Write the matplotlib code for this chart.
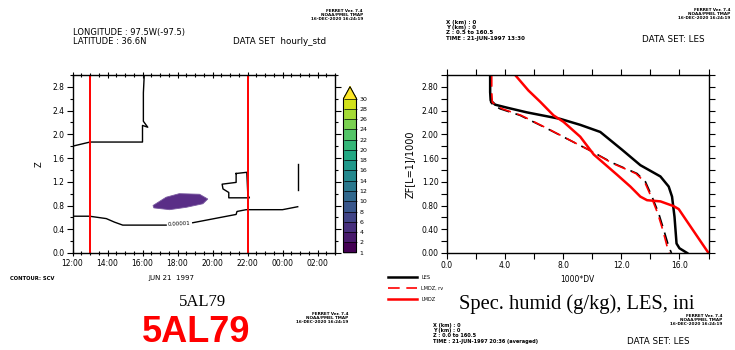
import matplotlib
matplotlib.use('Agg')
import matplotlib.pyplot as plt
from matplotlib.colors import BoundaryNorm
from matplotlib.ticker import MultipleLocator, FixedLocator, FixedFormatter, FuncFormatter
import matplotlib.cm as cm

# ---------------- data ----------------
hour_ticks = [12, 14, 16, 18, 20, 22, 24, 26]
hour_labels = ['12:00', '14:00', '16:00', '18:00', '20:00', '22:00', '00:00', '02:00']
z_ticks_left = [0.0, 0.4, 0.8, 1.2, 1.6, 2.0, 2.4, 2.8]
red_times = [13.0, 22.0]

cont_upper_t = [12.0, 13.0, 16.0, 16.0, 16.3, 16.05, 16.05, 16.1]
cont_upper_z = [1.80, 1.87, 1.87, 2.15, 2.12, 2.22, 2.70, 3.0]

cont_low_a_t = [12.0, 12.97, 13.93, 14.4, 14.87, 17.35]
cont_low_a_z = [0.62, 0.62, 0.58, 0.52, 0.47, 0.47]
cont_low_b_t = [18.87, 21.35, 21.4, 21.92, 24.0, 24.87]
cont_low_b_z = [0.51, 0.65, 0.70, 0.73, 0.73, 0.78]
cont_label = '0.00001'
cont_label_t, cont_label_z = 18.1, 0.49

cont_box_t = [21.35, 21.96, 22.02, 22.11, 20.93, 20.93, 20.6, 20.55, 21.35, 21.35]
cont_box_z = [1.34, 1.36, 0.97, 0.93, 0.93, 1.02, 1.08, 1.16, 1.19, 1.34]

cont_seg_t = [24.88, 24.88]
cont_seg_z = [1.50, 1.06]

blob_t = [16.6, 17.35, 18.1, 19.26, 19.73, 19.45, 18.5, 17.55, 16.65]
blob_z = [0.80, 0.94, 1.00, 0.99, 0.91, 0.83, 0.77, 0.73, 0.76]

cbar_levels = [1, 2, 4, 6, 8, 10, 12, 14, 16, 18, 20, 22, 24, 26, 28, 30]

les_q = [2.97, 2.97, 3.01, 3.31, 4.12, 5.5, 7.8, 9.17, 10.55, 12.05, 13.31, 14.69, 15.26, 15.49, 15.66, 15.8, 16.0, 16.53]
les_z = [3.0, 2.71, 2.57, 2.50, 2.45, 2.37, 2.26, 2.16, 2.04, 1.74, 1.48, 1.29, 1.12, 0.95, 0.61, 0.16, 0.08, 0.0]

rv_q = [3.0, 3.0, 3.01, 3.2, 3.66, 5.03, 6.87, 9.1, 9.75, 11.47, 13.08, 13.66, 14.11, 14.57, 14.92, 15.26, 15.45]
rv_z = [3.0, 2.71, 2.54, 2.49, 2.43, 2.32, 2.10, 1.82, 1.74, 1.51, 1.34, 1.20, 0.95, 0.67, 0.39, 0.11, 0.0]

rv_red_q = [3.08, 3.08, 3.12, 3.4, 3.8, 5.1, 6.9, 9.1, 9.75, 11.4, 13.0, 13.6, 14.05, 14.5, 14.85, 15.15, 15.3]
rv_red_z = [3.0, 2.71, 2.54, 2.49, 2.43, 2.32, 2.10, 1.82, 1.74, 1.51, 1.34, 1.20, 0.95, 0.67, 0.39, 0.11, 0.0]

lmdz_q = [4.69, 5.6, 6.41, 7.33, 8.02, 9.17, 10.1, 11.7, 12.62, 13.31, 13.77, 14.69, 15.6, 15.95, 16.53, 18.0]
lmdz_z = [3.0, 2.74, 2.55, 2.32, 2.21, 1.96, 1.66, 1.32, 1.12, 0.95, 0.89, 0.87, 0.79, 0.74, 0.53, 0.0]

q_ticks = [0, 4, 8, 12, 16]
zf_ticks = [0.0, 0.4, 0.8, 1.2, 1.6, 2.0, 2.4, 2.8]
legend_labels = ['LES', 'LMDZ, rv', 'LMDZ']

# ---------------- figure ----------------
W, H = 735, 350
fig = plt.figure(figsize=(W / 100, H / 100), dpi=100)
plt.rcParams['font.family'] = ['DejaVu Sans']


def box(x0, y0, x1, y1):
    return [x0 / W, 1 - y1 / H, (x1 - x0) / W, (y1 - y0) / H]


def ft(x, y, s, **kw):
    return fig.text(x / W, 1 - y / H, s, **kw)


# ---- left panel ----
ax1 = fig.add_axes(box(72.5, 75, 335, 253))
ax1.set_xlim(12, 27)
ax1.set_ylim(0, 3.0)
ax1.plot(cont_upper_t, cont_upper_z, color='black', lw=1.0)
ax1.plot(cont_low_a_t, cont_low_a_z, color='black', lw=1.0)
ax1.plot(cont_low_b_t, cont_low_b_z, color='black', lw=1.0)
ax1.plot(cont_box_t, cont_box_z, color='black', lw=1.0)
ax1.plot(cont_seg_t, cont_seg_z, color='black', lw=1.0)
ax1.text(cont_label_t, cont_label_z, cont_label, fontsize=4, ha='center', va='center', rotation=3)
ax1.fill(blob_t, blob_z, color='#5a2e87', lw=0.6, ec='#7a5aa0')
for t in red_times:
    ax1.axvline(t, color='red', lw=1.4)

ax1.xaxis.set_major_locator(FixedLocator(hour_ticks))
ax1.xaxis.set_major_formatter(FixedFormatter(hour_labels))
ax1.xaxis.set_minor_locator(MultipleLocator(0.5))
ax1.yaxis.set_major_locator(FixedLocator(z_ticks_left))
ax1.yaxis.set_major_formatter(FuncFormatter(lambda v, p: f'{v:.1f}'))
ax1.yaxis.set_minor_locator(MultipleLocator(0.2))
ax1.tick_params(which='both', direction='out', top=True, right=True, labelsize=5.5, width=0.8, pad=2)
ax1.tick_params(which='major', length=4)
ax1.tick_params(which='minor', length=2.5)
ax1.tick_params(axis='x', which='both', top=True, direction='inout')
for s in ax1.spines.values():
    s.set_linewidth(1.0)
ax1.set_ylabel('Z', fontsize=6, labelpad=6)

# colorbar
cmap = plt.get_cmap('viridis', 16)
norm = BoundaryNorm(cbar_levels, ncolors=16, extend='max')
cax = fig.add_axes(box(343.5, 86.7, 356.5, 252.7))
sm = cm.ScalarMappable(norm=norm, cmap=cmap)
cb = fig.colorbar(sm, cax=cax, extend='max', extendfrac=0.077, drawedges=True, ticks=cbar_levels)
cb.outline.set_linewidth(0.8)
cb.dividers.set_linewidth(0.5)
cb.ax.tick_params(labelsize=4.5, length=0, pad=2)

# ---- right panel ----
ax2 = fig.add_axes(box(447, 75, 708.5, 253))
ax2.set_xlim(0, 18)
ax2.set_ylim(0, 3.0)
l_les, = ax2.plot(les_q, les_z, color='black', lw=1.8)
ax2.plot(rv_q, rv_z, color='black', lw=1.2, dashes=(7, 4))
l_rv, = ax2.plot(rv_red_q, rv_red_z, color='red', lw=1.2, dashes=(7, 4))
l_lmdz, = ax2.plot(lmdz_q, lmdz_z, color='red', lw=1.8)
ax2.xaxis.set_major_locator(FixedLocator(q_ticks))
ax2.xaxis.set_major_formatter(FuncFormatter(lambda v, p: f'{v:.1f}'))
ax2.xaxis.set_minor_locator(MultipleLocator(2))
ax2.yaxis.set_major_locator(FixedLocator(zf_ticks))
ax2.yaxis.set_major_formatter(FuncFormatter(lambda v, p: f'{v:.2f}'))
ax2.yaxis.set_minor_locator(MultipleLocator(0.2))
ax2.tick_params(which='both', direction='out', top=True, right=True, labelsize=5.5, width=0.8, pad=2)
ax2.tick_params(which='major', length=4)
ax2.tick_params(which='minor', length=4)
for s in ax2.spines.values():
    s.set_linewidth(1.0)
ax2.set_xlabel('1000*DV', fontsize=5.5, labelpad=3)
ax2.set_ylabel('ZF[L=1]/1000', fontsize=7, labelpad=5)

fig.legend([l_les, l_rv, l_lmdz], legend_labels, loc='upper left',
           bbox_to_anchor=(386 / W, 1 - 273 / H), frameon=False, fontsize=3.5,
           handlelength=6, handletextpad=0.8, labelspacing=1.2, borderaxespad=0)

# ---- texts ----
stamp = 'FERRET Ver. 7.4\nNOAA/PMEL TMAP\n16-DEC-2020 16:24:19'
kw_st = dict(fontsize=3, fontweight='bold', ha='right', va='top', linespacing=1.0)
ft(363, 9, stamp, **kw_st)
ft(730, 8, stamp, **kw_st)
ft(348, 312, stamp, **kw_st)
ft(722, 314, stamp, **kw_st)

ft(73, 32, 'LONGITUDE : 97.5W(-97.5)', fontsize=6, va='center')
ft(73, 42, 'LATITUDE : 36.6N', fontsize=6, va='center')
ft(233, 41, 'DATA SET  hourly_std', fontsize=6.3, va='center')
ft(446, 20, 'X (km) : 0\nY (km) : 0\nZ : 0.5 to 160.5\nTIME : 21-JUN-1997 13:30',
   fontsize=4, va='top', linespacing=1.05, fontweight='bold')
ft(642, 39, 'DATA SET: LES', fontsize=6.3, va='center')

ft(10, 279, 'CONTOUR: SCV', fontsize=3.8, va='center', fontweight='bold')
ft(171, 278, 'JUN 21  1997', fontsize=5, va='center', ha='center')
ft(203, 306.5, '5AL79', fontsize=12, va='baseline', ha='center', family=['Liberation Serif'])
ft(196, 342, '5AL79', fontsize=26, va='baseline', ha='center', color='red',
   fontweight='bold', family=['Liberation Sans'])
ft(577, 309, 'Spec. humid (g/kg), LES, ini', fontsize=14.8, va='baseline', ha='center',
   family=['Liberation Serif'])
ft(433, 323, 'X (km) : 0\nY (km) : 0\nZ : 0.0 to 160.5\nTIME : 21-JUN-1997 20:36 (averaged)',
   fontsize=3.6, va='top', linespacing=1.05, fontweight='bold')
ft(627, 342, 'DATA SET: LES', fontsize=6.3, va='center')

fig.savefig('out.png', dpi=100)
